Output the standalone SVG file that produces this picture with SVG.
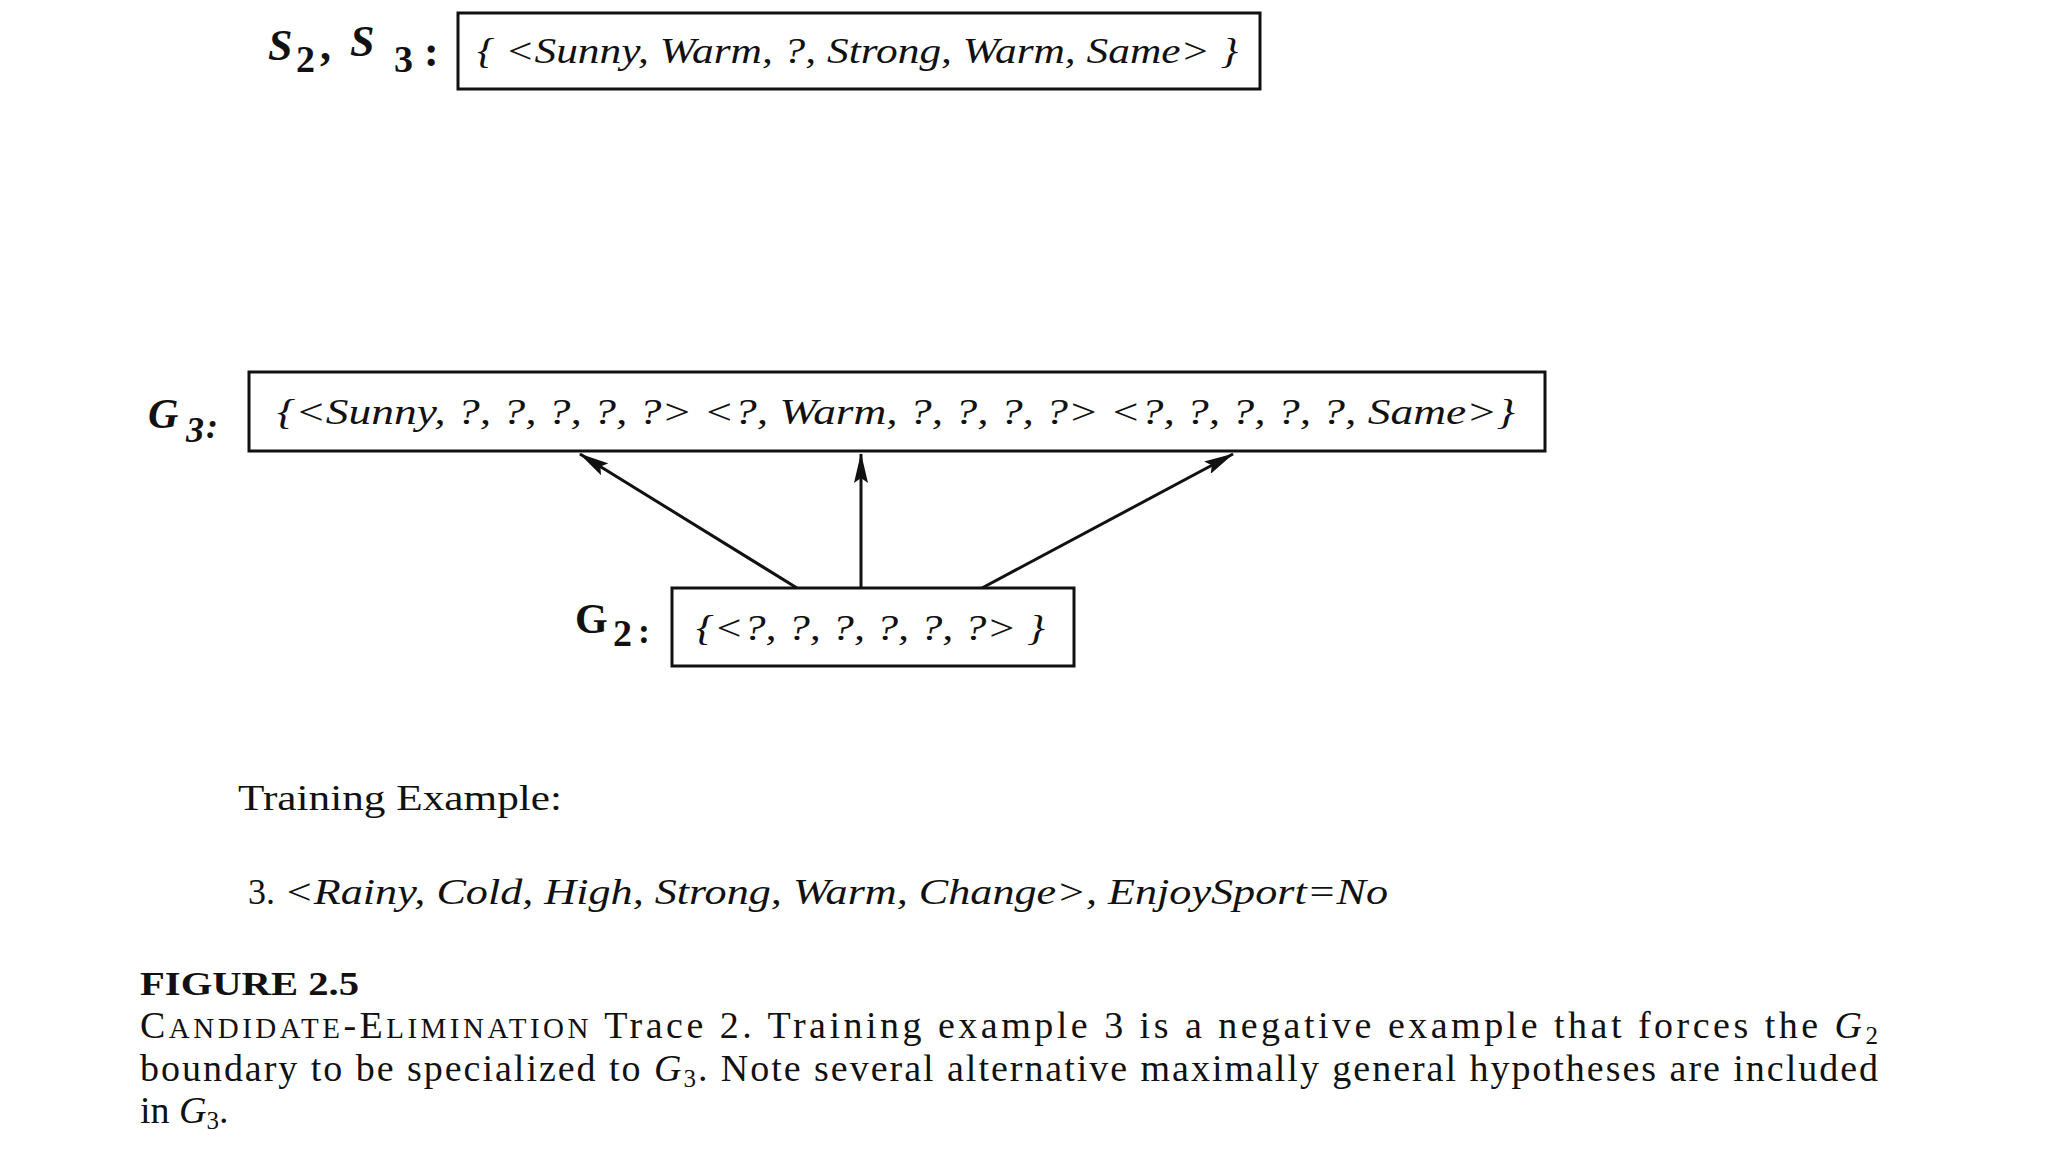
<svg xmlns="http://www.w3.org/2000/svg" width="2048" height="1152" viewBox="0 0 2048 1152">
<style>
.box{fill:#fff;stroke:#111;stroke-width:3}
.conn{stroke:#111;stroke-width:3;fill:none}
.it{font-family:"Liberation Serif",serif;font-style:italic;fill:#111}
.rm{font-family:"Liberation Serif",serif;fill:#111}
.lb{font-family:"Liberation Serif",serif;font-weight:bold;fill:#111}
</style>
<defs>
<marker id="ahb" markerWidth="30" markerHeight="14" refX="29" refY="7" orient="auto" markerUnits="userSpaceOnUse" viewBox="0 0 30 14">
<path d="M0,0 L30,7 L0,14 L5,7 z" fill="#111"/>
</marker>
</defs>
<rect width="2048" height="1152" fill="#fff"/>

<g id="S23">
<text class="lb" font-size="44"><tspan x="268" y="60" font-style="italic">S</tspan><tspan x="296" y="72" font-size="38">2</tspan><tspan x="320" y="60">,</tspan><tspan x="350" y="56" font-style="italic">S</tspan><tspan x="394" y="72" font-size="38">3</tspan><tspan x="424" y="66">:</tspan></text>
<rect class="box" x="458" y="13" width="802" height="76"/>
<text class="it" x="477" y="63" font-size="36" textLength="761" lengthAdjust="spacingAndGlyphs">{ &lt;Sunny, Warm, ?, Strong, Warm, Same&gt; }</text>
</g>

<g id="G3">
<text class="lb" font-size="42" font-style="italic"><tspan x="148" y="428">G</tspan><tspan x="186" y="442" font-size="36">3</tspan><tspan x="206" y="438" font-size="36">:</tspan></text>
<rect class="box" x="249" y="372" width="1296" height="79"/>
<text class="it" x="277" y="424" font-size="36" textLength="1238" lengthAdjust="spacingAndGlyphs">{&lt;Sunny, ?, ?, ?, ?, ?&gt;  &lt;?, Warm, ?, ?, ?, ?&gt;  &lt;?, ?, ?, ?, ?, Same&gt;}</text>
</g>

<g id="G2">
<text class="lb" font-size="42"><tspan x="575" y="633">G</tspan><tspan x="613" y="646" font-size="38">2</tspan><tspan x="638" y="643" font-size="36">:</tspan></text>
<rect class="box" x="672" y="588" width="402" height="78"/>
<text class="it" x="696" y="640" font-size="36" textLength="349" lengthAdjust="spacingAndGlyphs">{&lt;?, ?, ?, ?, ?, ?&gt; }</text>
</g>

<g id="connectors">
<line class="conn" x1="797" y1="588" x2="580" y2="454" marker-end="url(#ahb)"/>
<line class="conn" x1="861" y1="588" x2="861" y2="454" marker-end="url(#ahb)"/>
<line class="conn" x1="982" y1="588" x2="1233" y2="454" marker-end="url(#ahb)"/>
</g>

<g id="training">
<text class="rm" x="238" y="810" font-size="36" textLength="324" lengthAdjust="spacingAndGlyphs">Training Example:</text>
<text class="rm" x="248" y="904" font-size="36">3. <tspan class="it" textLength="1104" lengthAdjust="spacingAndGlyphs">&lt;Rainy, Cold, High, Strong, Warm, Change&gt;,  EnjoySport=No</tspan></text>
</g>

<g id="caption">
<text class="lb" x="140" y="995" font-size="34" textLength="219" lengthAdjust="spacingAndGlyphs">FIGURE 2.5</text>
<text class="rm" x="140" y="1038" font-size="38" textLength="1738" lengthAdjust="spacing">C<tspan font-size="29">ANDIDATE</tspan>-E<tspan font-size="29">LIMINATION</tspan> Trace 2. Training example 3 is a negative example that forces the <tspan font-style="italic">G</tspan><tspan font-size="25" dy="6">2</tspan></text>
<text class="rm" x="140" y="1081" font-size="38" textLength="1738" lengthAdjust="spacing">boundary to be specialized to <tspan font-style="italic">G</tspan><tspan font-size="25" dy="6">3</tspan><tspan dy="-6">. Note several alternative maximally general hypotheses are included</tspan></text>
<text class="rm" x="140" y="1123" font-size="38">in <tspan font-style="italic">G</tspan><tspan font-size="25" dy="6">3</tspan><tspan dy="-6">.</tspan></text>
</g>
</svg>
